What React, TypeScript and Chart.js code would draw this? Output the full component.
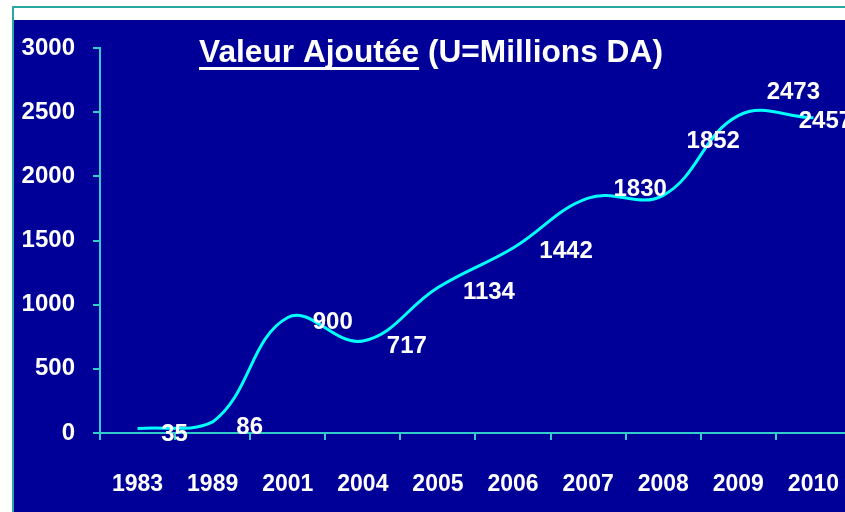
import React, { useEffect, useRef } from "react";
import { Chart, registerables } from "chart.js";

Chart.register(...registerables);

const years = ["1983", "1989", "2001", "2004", "2005", "2006", "2007", "2008", "2009", "2010"];
const valeurAjoutee = [35, 86, 900, 717, 1134, 1442, 1830, 1852, 2473, 2457];
const yTicks = [0, 500, 1000, 1500, 2000, 2500, 3000];
const titleMain = "Valeur Ajoutée";
const titleRest = " (U=Millions DA)";

const FONT = '"Liberation Sans", Arial, sans-serif';
const BG_BLUE = "#000099";
const AXIS = "#33cccc";
const FRAME = "#2aa89f";
const LINE = "#00ffff";
const CANVAS_W = 870;

// label placement offsets (px) relative to each point, as in the original slide
const LABEL_OFFSETS: [number, number][] = [
  [37, 4], [37, 4], [45, 3], [44, 4], [51, 3], [53, 2], [52, -11], [50, -56], [55, -25], [12, 2],
];

export default function App() {
  const ref = useRef<HTMLCanvasElement | null>(null);

  useEffect(() => {
    const canvas = ref.current;
    if (!canvas) return;

    const bgPlugin = {
      id: "bg",
      beforeDraw(chart: any) {
        const ctx = chart.ctx;
        const w = chart.width, h = chart.height;
        ctx.save();
        ctx.fillStyle = "#ffffff";
        ctx.fillRect(0, 0, w, h);
        ctx.fillStyle = BG_BLUE;
        ctx.fillRect(12, 20, w - 12, h - 20);
        ctx.fillStyle = FRAME;
        ctx.fillRect(12, 6, w - 12, 2);
        ctx.fillRect(12, 6, 2, h - 6);
        ctx.restore();
      },
    };

    const titlePlugin = {
      id: "titleText",
      afterDraw(chart: any) {
        const ctx = chart.ctx;
        ctx.save();
        ctx.font = `bold 31.7px ${FONT}`;
        ctx.fillStyle = "#ffffff";
        ctx.textBaseline = "alphabetic";
        ctx.textAlign = "left";
        const x0 = 199, base = 62;
        ctx.fillText(titleMain, x0, base);
        const w1 = ctx.measureText(titleMain).width;
        ctx.fillText(titleRest, x0 + w1, base);
        ctx.fillRect(x0, 67, w1, 3);
        ctx.restore();
      },
    };

    const labelPlugin = {
      id: "dataLabels",
      afterDatasetsDraw(chart: any) {
        const ctx = chart.ctx;
        const meta = chart.getDatasetMeta(0);
        ctx.save();
        ctx.font = `bold 24px ${FONT}`;
        ctx.fillStyle = "#ffffff";
        ctx.textAlign = "center";
        ctx.textBaseline = "alphabetic";
        meta.data.forEach((pt: any, i: number) => {
          const [dx, dy] = LABEL_OFFSETS[i] || [0, 0];
          ctx.fillText(String(valeurAjoutee[i]), pt.x + dx, pt.y + dy + 8.5);
        });
        ctx.restore();
      },
    };

    const chart = new Chart(canvas, {
      type: "line",
      data: {
        labels: years,
        datasets: [
          {
            data: valeurAjoutee,
            borderColor: LINE,
            borderWidth: 3,
            pointRadius: 0,
            tension: 0.4,
            fill: false,
          },
        ],
      },
      options: {
        responsive: false,
        animation: false,
        devicePixelRatio: 1,
        layout: { padding: { top: 48, left: 0, right: 0, bottom: 0 } },
        plugins: {
          legend: { display: false },
          tooltip: { enabled: false },
          title: { display: false },
        },
        scales: {
          x: {
            type: "category",
            offset: true,
            grid: {
              offset: true,
              drawOnChartArea: false,
              drawTicks: true,
              tickLength: 7,
              color: AXIS,
              lineWidth: 2,
            },
            border: { display: true, color: AXIS, width: 2 },
            ticks: {
              color: "#ffffff",
              font: { family: FONT, size: 23, weight: "bold" },
              padding: 31,
              maxRotation: 0,
              autoSkip: false,
            },
            afterFit(scale: any) {
              scale.height = 512 - 433;
            },
          },
          y: {
            min: 0,
            max: 3000,
            afterBuildTicks(scale: any) {
              scale.ticks = yTicks.map((v) => ({ value: v }));
            },
            grid: {
              drawOnChartArea: false,
              drawTicks: true,
              tickLength: 7,
              color: AXIS,
              lineWidth: 2,
            },
            border: { display: true, color: AXIS, width: 2 },
            ticks: {
              color: "#ffffff",
              font: { family: FONT, size: 24, weight: "bold" },
              padding: 18,
              callback: (v: any) => String(v),
            },
            afterFit(scale: any) {
              scale.width = 100;
            },
          },
        },
      },
      plugins: [bgPlugin, titlePlugin, labelPlugin],
    } as any);

    return () => chart.destroy();
  }, []);

  return (
    <div
      style={{
        position: "fixed",
        left: 0,
        top: 0,
        width: 845,
        height: 512,
        overflow: "hidden",
        background: "#ffffff",
      }}
    >
      <canvas ref={ref} width={CANVAS_W} height={512} style={{ display: "block", width: CANVAS_W, height: 512 }} />
    </div>
  );
}
